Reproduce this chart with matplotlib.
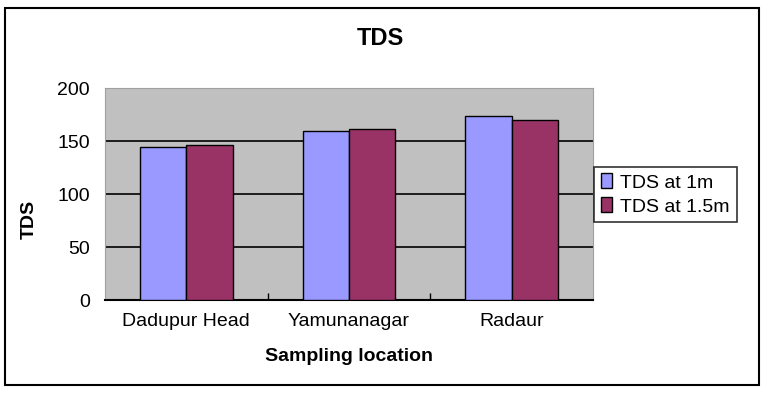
import matplotlib.pyplot as plt
from matplotlib.patches import Rectangle
import numpy as np

# data
locations = ['Dadupur Head', 'Yamunanagar', 'Radaur']
tds_1m = [144, 159, 174]
tds_15m = [146, 161, 170]
series_names = ['TDS at 1m', 'TDS at 1.5m']

plt.rcParams['font.family'] = ['Liberation Sans', 'DejaVu Sans']

fig = plt.figure(figsize=(7.68, 3.93), dpi=100)
ax = fig.add_axes([0.1367, 0.2366, 0.6354, 0.5394])

x = np.arange(len(locations))
w = 0.285
ax.bar(x - w/2, tds_1m, w, color='#9999FF', edgecolor='black', linewidth=1,
       label=series_names[0], zorder=3)
ax.bar(x + w/2, tds_15m, w, color='#993366', edgecolor='black', linewidth=1,
       label=series_names[1], zorder=3)

ax.set_facecolor('#C0C0C0')
ax.set_xlim(-0.5, 2.5)
ax.set_ylim(0, 200)
ax.set_yticks([0, 50, 100, 150, 200])
ax.yaxis.grid(True, color='black', linewidth=1.2, zorder=1)
ax.set_axisbelow(True)

ax.set_xticks(x)
ax.set_xticklabels(locations, fontsize=14)
ax.set_xticks([0.5, 1.5], minor=True)
ax.tick_params(axis='x', which='major', length=0, pad=9)
ax.tick_params(axis='x', which='minor', direction='in', length=5, width=1)
ax.tick_params(axis='y', length=0, labelsize=14, pad=11)

for s in ['top', 'right', 'left']:
    ax.spines[s].set_color('#A0A0A0')
ax.spines['bottom'].set_linewidth(1.5)

ax.set_ylabel('TDS', fontsize=14, fontweight='bold')
ax.yaxis.set_label_coords(-0.138, 0.38)
ax.set_xlabel('Sampling location', fontsize=14, fontweight='bold', labelpad=13)
fig.text(0.495, 0.903, 'TDS', ha='center', va='center', fontsize=17, fontweight='bold')

leg = ax.legend(loc='center left', bbox_to_anchor=(1.002, 0.498), fontsize=14,
                frameon=True, fancybox=False, edgecolor='black',
                handlelength=0.6, handleheight=0.8, handletextpad=0.4,
                borderpad=0.35, labelspacing=0.3, borderaxespad=0)
leg.get_frame().set_linewidth(1.2)

# outer chart border
fig.patches.append(Rectangle((5/768, 1 - 385/393), 754/768, 377/393,
                             transform=fig.transFigure, fill=False,
                             edgecolor='black', linewidth=1.5))

fig.savefig('out.png', dpi=100)
